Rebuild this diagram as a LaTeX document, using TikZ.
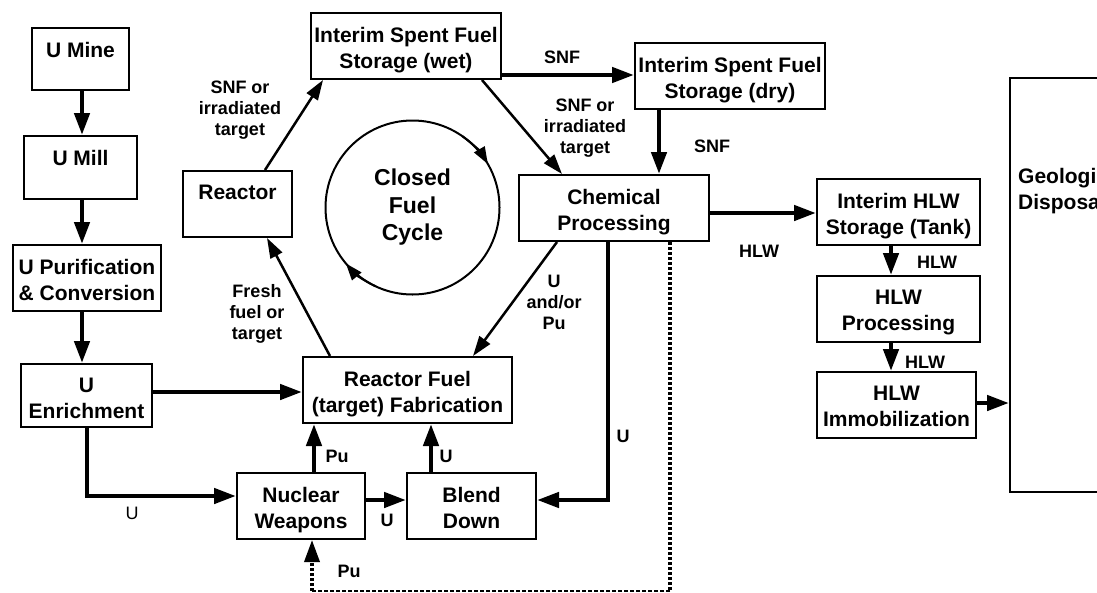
\documentclass[tikz,border=0pt]{standalone}
\usepackage{fontspec}
\setmainfont{Liberation Sans}
\usetikzlibrary{arrows.meta}
\newcommand{\fcbox}[6]{%
  \node[box, minimum width={#4-#2}, minimum height={#5-#3},
        label={[btxt,anchor=north,yshift=-15pt]north:{#6}}]
        (#1) at ({(#2+#4)/2},{(#3+#5)/2}) {};}
\begin{document}
\begin{tikzpicture}[x=1pt,y=-1pt,
  box/.style={draw, line width=2pt, inner sep=0pt},
  btxt/.style={font=\fontsize{21}{26}\selectfont\bfseries, align=center, inner sep=0pt},
  lbl/.style={font=\fontsize{18}{21}\selectfont\bfseries, align=center, inner sep=0pt},
  tarr/.style={line width=4.5pt, -{Triangle[length=22pt,width=15pt]}},
  narr/.style={line width=2.5pt, -{Triangle[length=20pt,width=13pt]}},
  carr/.style={line width=2pt, -{Triangle[length=17pt,width=12pt]}},
  dotv/.style={line width=3.5pt, dash pattern=on 3pt off 2pt},
  doth/.style={line width=1.3pt, dash pattern=on 4pt off 2pt},
]
\useasboundingbox (0,0) rectangle (1097,592);
\fill[white] (0,0) rectangle (1097,592);
\clip (0,0) rectangle (1097,592);

% boxes
\fcbox{mine}{32}{28}{129}{90}{U Mine}
\fcbox{mill}{24}{136}{137}{199}{U Mill}
\fcbox{purif}{13}{245}{161}{311}{U Purification\\\& Conversion}
\fcbox{enrich}{21}{364}{152}{427}{U\\Enrichment}
\fcbox{reactor}{183}{171}{292}{237}{Reactor}
\fcbox{wet}{311}{13}{501}{79}{Interim Spent Fuel\\Storage (wet)}
\fcbox{dry}{635}{43}{825}{109}{Interim Spent Fuel\\Storage (dry)}
\fcbox{chem}{519}{175}{709}{241}{Chemical\\Processing}
\fcbox{fuelfab}{303}{357}{512}{423}{Reactor Fuel\\(target) Fabrication}
\fcbox{weapons}{237}{473}{365}{539}{Nuclear\\Weapons}
\fcbox{blend}{407}{473}{536}{539}{Blend\\Down}
\fcbox{hlwstore}{817}{179}{980}{245}{Interim HLW\\Storage (Tank)}
\fcbox{hlwproc}{817}{276}{980}{342}{HLW\\Processing}
\fcbox{immob}{817}{372}{976}{438}{HLW\\Immobilization}
\node[box, minimum width=110pt, minimum height=414pt] (geol) at (1065,285) {};
\node[btxt, align=left, anchor=west] (geoltxt) at (1018,191) {Geological\\Disposal};

% closed cycle
\node[draw, circle, line width=2pt, minimum size=174pt, inner sep=0pt,
      font=\fontsize{23}{27.5}\selectfont\bfseries, align=center]
      (circ) at (412.5,207.5) {Closed\\Fuel\\Cycle};
\draw[carr] (circ.center) ++(-55:87) arc[start angle=-55, end angle=-30, radius=87];
\draw[carr] (circ.center) ++(115:87) arc[start angle=115, end angle=140, radius=87];

% connectors
\draw[tarr] (mine.south -| 82,0) -- (mill.north -| 82,0);
\draw[tarr] (mill.south -| 82,0) -- (purif.north -| 82,0);
\draw[tarr] (purif.south -| 82,0) -- (enrich.north -| 82,0);
\draw[tarr] (enrich.east |- 0,392) -- (fuelfab.west |- 0,392);
\draw[tarr] (enrich.south -| 87,0) |- (weapons.west |- 0,496);
\draw[tarr] (weapons.north -| 314,0) -- (fuelfab.south -| 314,0);
\draw[tarr] (blend.north -| 431,0) -- (fuelfab.south -| 431,0);
\draw[tarr] (weapons.east |- 0,500) -- (blend.west |- 0,500);
\draw[tarr] (chem.south -| 608,0) |- (blend.east |- 0,500);
\coordinate (d1) at (670,591);
\coordinate (d2) at (312,591);
\draw[dotv] (chem.south -| d1) -- (d1);
\draw[doth] (d1) -- (d2);
\draw[dotv, -{Triangle[length=22pt,width=15pt]}] (d2) -- (weapons.south -| d2);
\draw[tarr] (wet.east |- 0,75) -- (dry.west |- 0,75);
\draw[tarr] (dry.south -| 659,0) -- (chem.north -| 659,0);
\draw[narr] (wet.south -| 482,0) -- (chem.north -| 562,0);
\draw[narr] (reactor.north -| 265,0) -- (wet.south -| 323,0);
\draw[narr] (fuelfab.north -| 330,0) -- (reactor.south -| 267,0);
\draw[narr] (chem.south -| 557,0) -- (fuelfab.north -| 473,0);
\draw[tarr] (chem.east |- 0,213) -- (hlwstore.west |- 0,213);
\draw[tarr] (hlwstore.south -| 891,0) -- (hlwproc.north -| 891,0);
\draw[tarr] (hlwproc.south -| 891,0) -- (immob.north -| 891,0);
\draw[tarr] (immob.east |- 0,403) -- (geol.west |- 0,403);

% labels
\node[lbl] (l1) at (240,110) {SNF or\\irradiated\\target};
\node[lbl] (l2) at (562,57) {SNF};
\node[lbl] (l3) at (585,128) {SNF or\\irradiated\\target};
\node[lbl] (l4) at (712,146) {SNF};
\node[lbl] (l5) at (759,251) {HLW};
\node[lbl] (l6) at (937,262) {HLW};
\node[lbl] (l7) at (925,362) {HLW};
\node[lbl] (l8) at (554,302) {U\\and/or\\Pu};
\node[lbl] (l9) at (623,436) {U};
\node[lbl] (l10) at (257,314) {Fresh\\fuel or\\target};
\node[lbl] (l11) at (337,456) {Pu};
\node[lbl] (l12) at (446,456) {U};
\node[lbl] (l13) at (387,520) {U};
\node[lbl, font=\fontsize{18}{21}\selectfont\mdseries] (l14) at (132,513) {U};
\node[lbl] (l15) at (349,571) {Pu};
\end{tikzpicture}
\end{document}
